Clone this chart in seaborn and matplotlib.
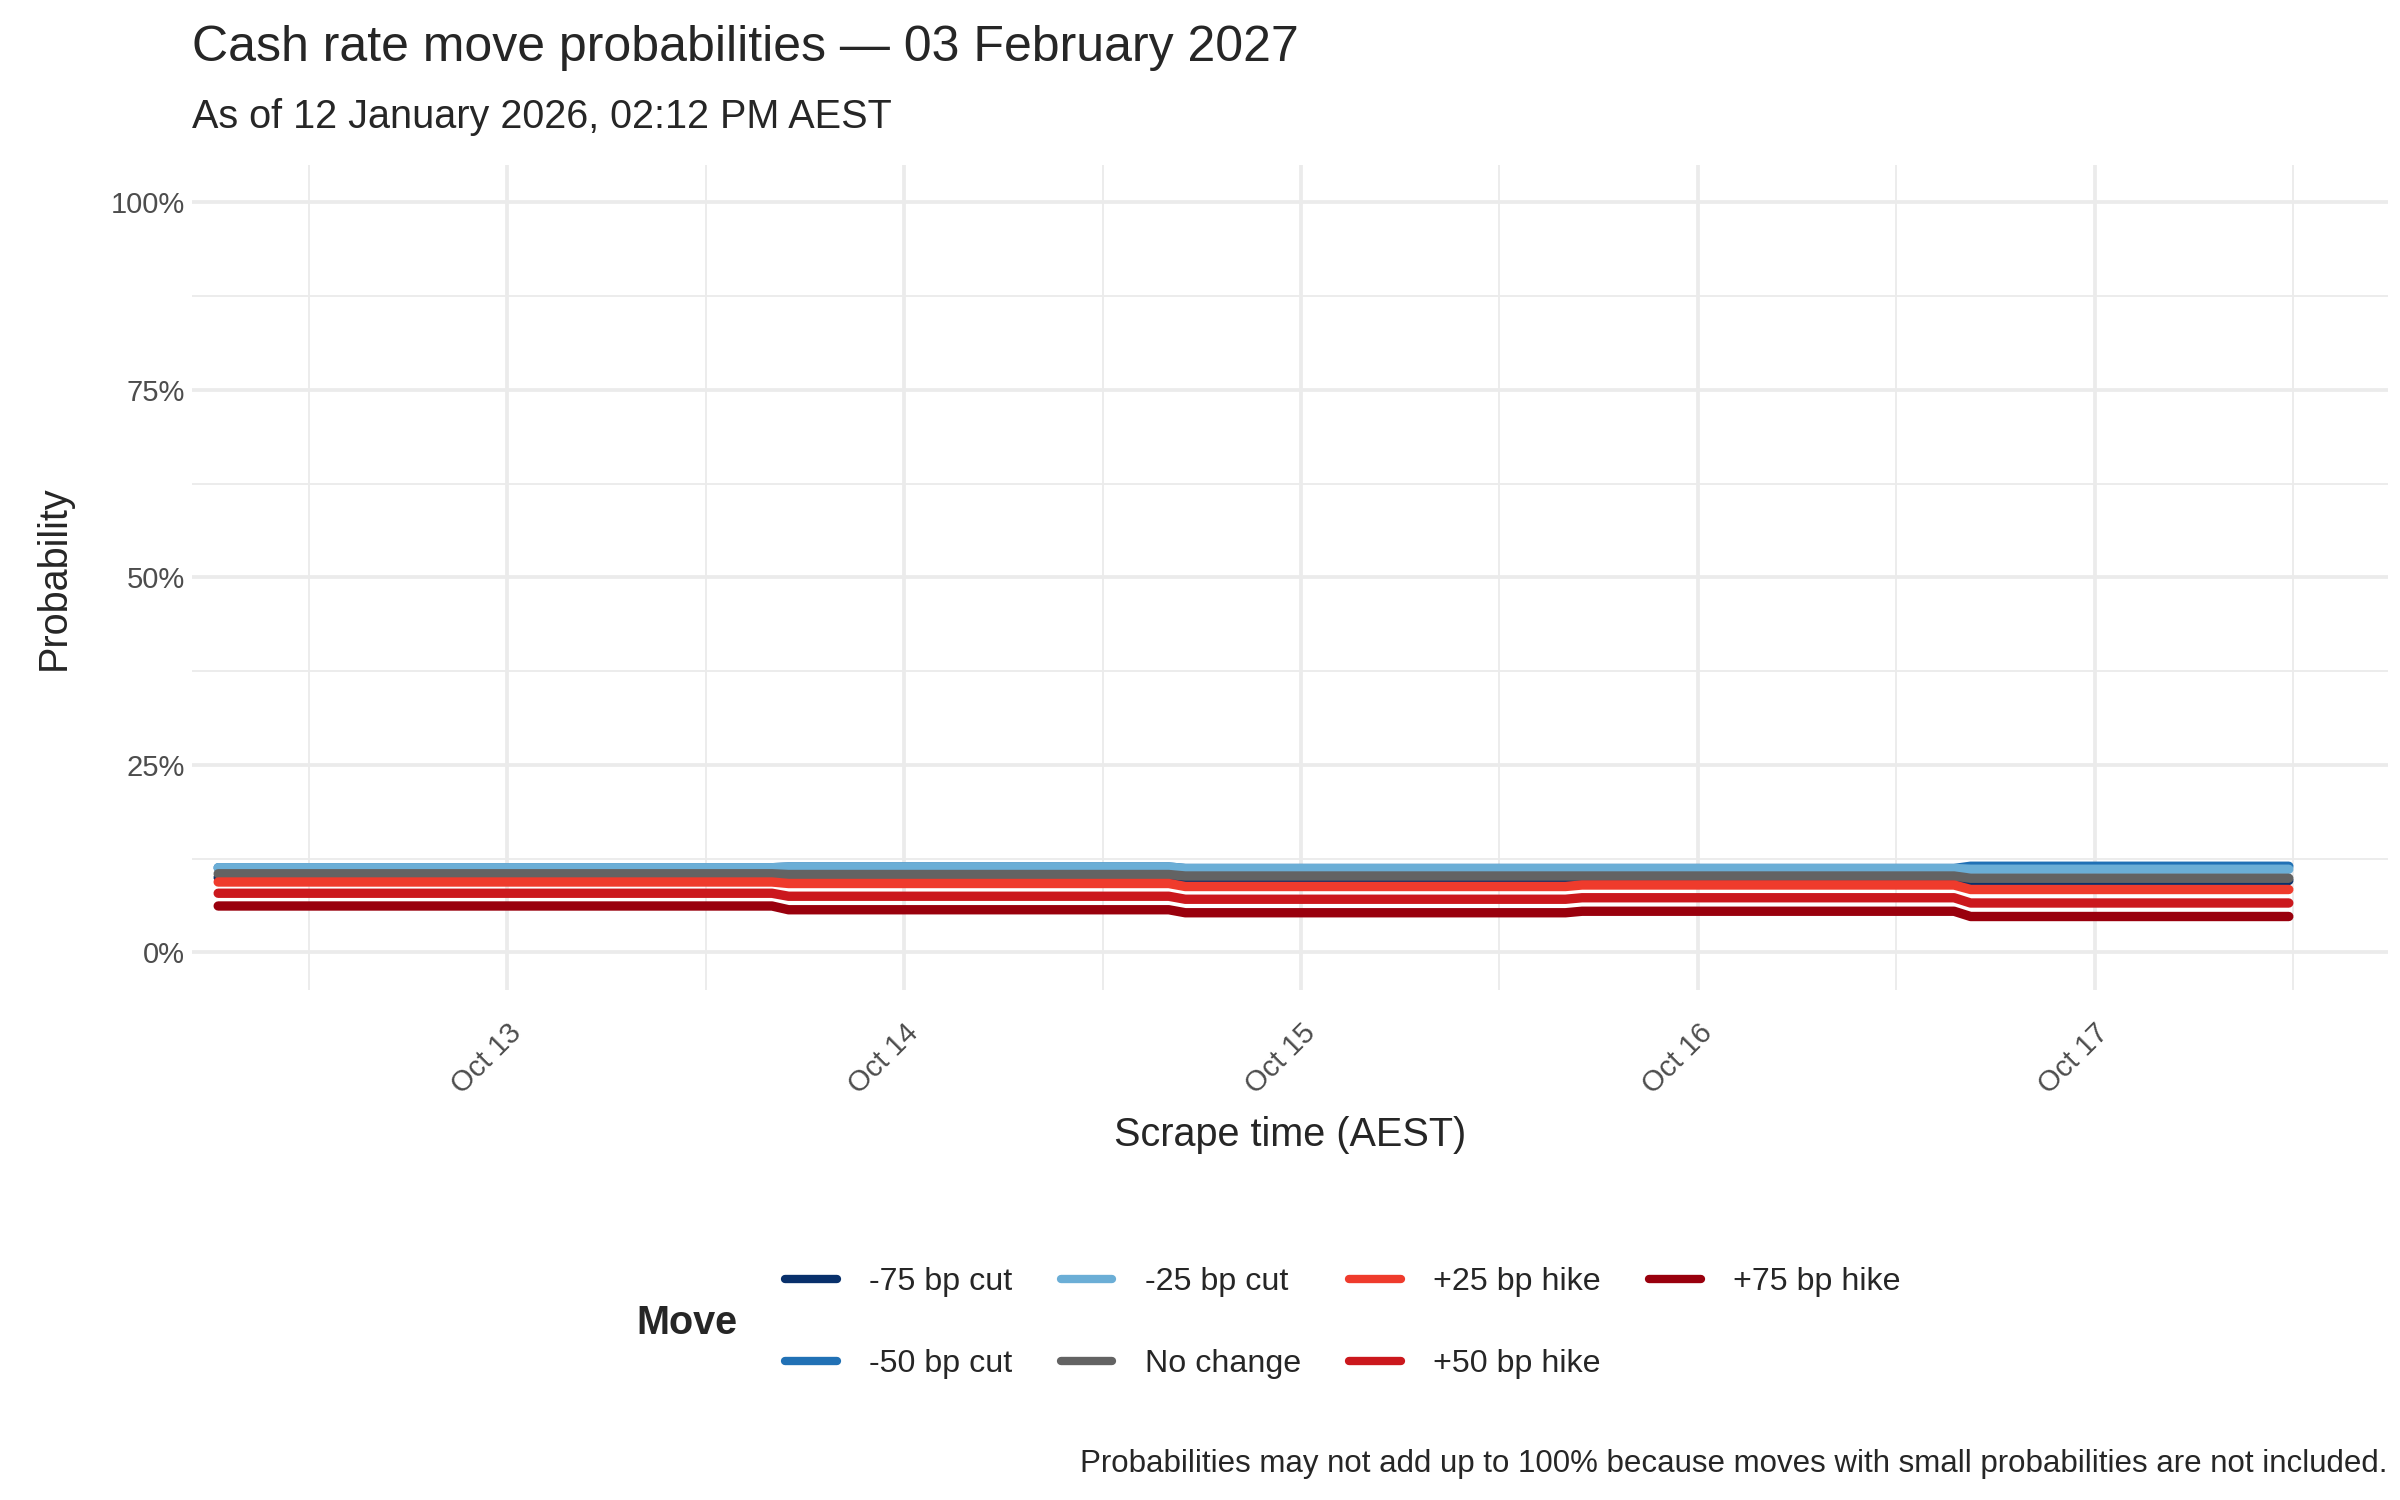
import numpy as np
import pandas as pd
import matplotlib.pyplot as plt
import matplotlib.dates as mdates
from matplotlib.lines import Line2D
from matplotlib.ticker import PercentFormatter, MultipleLocator
import seaborn as sns

times = pd.to_datetime([
    "2025-10-12 06:30", "2025-10-13 16:00", "2025-10-13 17:00",
    "2025-10-14 16:00", "2025-10-14 17:00", "2025-10-15 16:00",
    "2025-10-15 17:00", "2025-10-16 15:30", "2025-10-16 16:30",
    "2025-10-17 11:45",
])
moves = ["-75 bp cut", "-50 bp cut", "-25 bp cut", "No change",
         "+25 bp hike", "+50 bp hike", "+75 bp hike"]
colors = ["#08306B", "#2171B5", "#6BAED6", "#636363",
          "#EF3B2C", "#CB181D", "#99000D"]
p_m75 = [10.0, 10.0, 10.0, 10.0, 9.8, 9.8, 9.8, 9.8, 9.6, 9.6]
p_m50 = [11.3, 11.3, 11.4, 11.4, 11.2, 11.2, 11.2, 11.2, 11.5, 11.5]
p_m25 = [11.3, 11.3, 11.4, 11.4, 11.2, 11.2, 11.2, 11.2, 11.1, 11.1]
p_nc = [10.5, 10.5, 10.4, 10.4, 10.2, 10.2, 10.2, 10.2, 9.9, 9.9]
p_p25 = [9.4, 9.4, 9.2, 9.2, 8.8, 8.8, 9.0, 9.0, 8.4, 8.4]
p_p50 = [7.9, 7.9, 7.5, 7.5, 7.1, 7.1, 7.3, 7.3, 6.6, 6.6]
p_p75 = [6.2, 6.2, 5.7, 5.7, 5.3, 5.3, 5.5, 5.5, 4.8, 4.8]

series = [p_m75, p_m50, p_m25, p_nc, p_p25, p_p50, p_p75]
df = pd.concat([pd.DataFrame({"time": times, "prob": np.array(v) / 100, "move": m})
                for m, v in zip(moves, series)])

sns.set_theme(style="whitegrid")
plt.rcParams["font.family"] = ["Liberation Sans", "DejaVu Sans"]

fig = plt.figure(figsize=(16, 10), dpi=150)
ax = fig.add_axes([0.08, 0.34, 0.915, 0.55])
sns.lineplot(data=df, x="time", y="prob", hue="move", hue_order=moves,
             palette=colors, linewidth=4.5, ax=ax, legend=False)

ax.set_ylim(-0.05, 1.05)
ax.yaxis.set_major_locator(MultipleLocator(0.25))
ax.yaxis.set_minor_locator(MultipleLocator(0.125))
ax.yaxis.set_major_formatter(PercentFormatter(1.0, decimals=0))
ax.set_xlim(pd.Timestamp("2025-10-12 04:55"), pd.Timestamp("2025-10-17 17:45"))
ax.xaxis.set_major_locator(mdates.DayLocator())
ax.xaxis.set_minor_locator(mdates.HourLocator(byhour=12))
ax.xaxis.set_major_formatter(mdates.DateFormatter("%b %d"))
for lab in ax.get_xticklabels():
    lab.set_rotation(45)
    lab.set_ha("right")
    lab.set_rotation_mode("anchor")
ax.tick_params(labelsize=14, labelcolor="#4d4d4d", length=0)
ax.tick_params(axis="x", pad=14)
ax.grid(which="major", color="#ebebeb", linewidth=1.8)
ax.grid(which="minor", color="#ebebeb", linewidth=0.9)
ax.set_facecolor("white")
for s in ax.spines.values():
    s.set_visible(False)
ax.set_xlabel("Scrape time (AEST)", fontsize=19, labelpad=8)
ax.set_ylabel("Probability", fontsize=19, labelpad=18)

fig.text(0.08, 0.968, "Cash rate move probabilities \u2014 03 February 2027",
         fontsize=24, va="center")
fig.text(0.08, 0.922, "As of 12 January 2026, 02:12 PM AEST", fontsize=19, va="center")

handles = [Line2D([0], [0], color=c, linewidth=4) for c in colors]
fig.legend(handles, moves, ncol=4, loc="center left", bbox_to_anchor=(0.315, 0.118),
           frameon=False, fontsize=15.5, handlelength=1.6, columnspacing=1.5,
           labelspacing=1.6, handletextpad=1.0)
fig.text(0.265, 0.118, "Move", fontsize=19, fontweight="bold", va="center")
fig.text(0.995, 0.024,
         "Probabilities may not add up to 100% because moves with small probabilities are not included.",
         fontsize=15, ha="right", va="center")

fig.savefig("out.png", dpi=150)
